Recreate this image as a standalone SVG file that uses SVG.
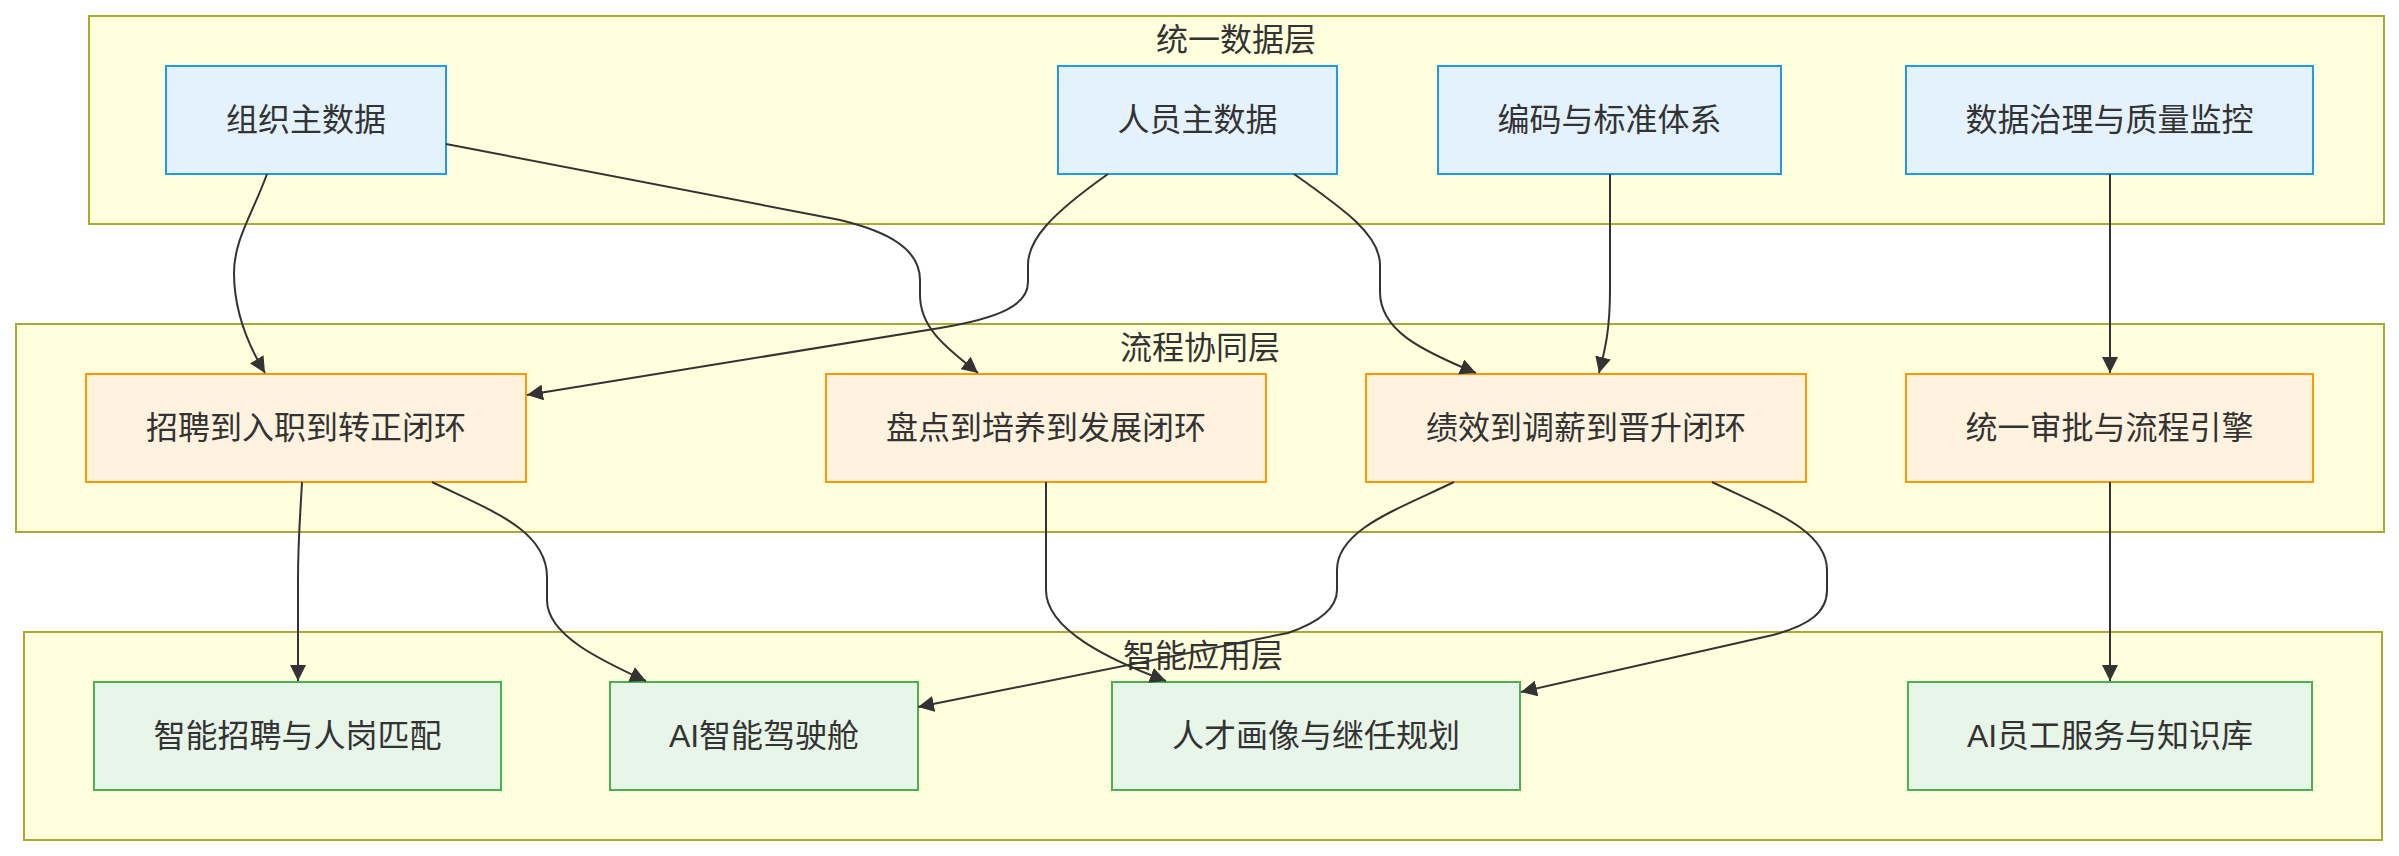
<svg xmlns="http://www.w3.org/2000/svg" width="2399" height="856" viewBox="0 0 2399 856">
<defs>
<marker id="arr" viewBox="0 0 10 10" refX="10" refY="5" markerUnits="userSpaceOnUse" markerWidth="16" markerHeight="16" orient="auto">
<path d="M0,0 L10,5 L0,10 z" fill="#333"/>
</marker>
</defs>
<style>
.cl{fill:#ffffde;stroke:#aaaa33;stroke-width:2}
.dn{fill:#E3F2FD;stroke:#2196F3;stroke-width:2}
.pn{fill:#FFF3E0;stroke:#FF9800;stroke-width:2}
.an{fill:#E8F5E9;stroke:#4CAF50;stroke-width:2}
text{font-family:"Liberation Sans","Noto Sans CJK SC",sans-serif;font-size:32px;fill:#333;text-anchor:middle}
.e{fill:none;stroke:#333;stroke-width:2;marker-end:url(#arr)}
</style>
<rect width="2399" height="856" fill="#fff"/>
<g id="cluster-data">
<rect class="cl" x="89" y="16" width="2295" height="208"/>
<text x="1236" y="51">统一数据层</text>
</g>
<g id="cluster-process">
<rect class="cl" x="16" y="324" width="2368" height="208"/>
<text x="1200" y="359">流程协同层</text>
</g>
<g id="cluster-app">
<rect class="cl" x="24" y="632" width="2358" height="208"/>
<text x="1203" y="667">智能应用层</text>
</g>
<g id="n-org"><rect class="dn" x="166" y="66" width="280" height="108"/><text x="306" y="131">组织主数据</text></g>
<g id="n-person"><rect class="dn" x="1058" y="66" width="279" height="108"/><text x="1197.5" y="131">人员主数据</text></g>
<g id="n-code"><rect class="dn" x="1438" y="66" width="343" height="108"/><text x="1609.5" y="131">编码与标准体系</text></g>
<g id="n-gov"><rect class="dn" x="1906" y="66" width="407" height="108"/><text x="2109.5" y="131">数据治理与质量监控</text></g>
<g id="n-recruit"><rect class="pn" x="86" y="374" width="440" height="108"/><text x="306" y="439">招聘到入职到转正闭环</text></g>
<g id="n-review"><rect class="pn" x="826" y="374" width="440" height="108"/><text x="1046" y="439">盘点到培养到发展闭环</text></g>
<g id="n-perf"><rect class="pn" x="1366" y="374" width="440" height="108"/><text x="1586" y="439">绩效到调薪到晋升闭环</text></g>
<g id="n-approve"><rect class="pn" x="1906" y="374" width="407" height="108"/><text x="2109.5" y="439">统一审批与流程引擎</text></g>
<g id="n-smartrec"><rect class="an" x="94" y="682" width="407" height="108"/><text x="297.5" y="747">智能招聘与人岗匹配</text></g>
<g id="n-cockpit"><rect class="an" x="610" y="682" width="308" height="108"/><text x="764" y="747">AI智能驾驶舱</text></g>
<g id="n-talent"><rect class="an" x="1112" y="682" width="408" height="108"/><text x="1316" y="747">人才画像与继任规划</text></g>
<g id="n-service"><rect class="an" x="1908" y="682" width="404" height="108"/><text x="2110" y="747">AI员工服务与知识库</text></g>
<g id="connectors">
<path class="e" d="M267,174 C252,215 234,240 234,273 C234,310 248,345 265,373"/>
<path class="e" d="M446,144 L840,220 C890,232 920,250 920,280 L920,295 C920,330 950,350 978,373"/>
<path class="e" d="M1108,174 C1050,215 1028,240 1028,265 L1028,282 C1028,305 1000,318 940,328 L527,395"/>
<path class="e" d="M1294,174 C1345,210 1380,235 1380,265 L1380,292 C1380,330 1420,350 1476,373"/>
<path class="e" d="M1610,174 L1610,290 C1610,330 1605,350 1599,373"/>
<path class="e" d="M2110,174 L2110,373"/>
<path class="e" d="M302,482 C300,520 298,540 298,580 L298,681"/>
<path class="e" d="M432,482 C490,510 547,530 547,577 L547,600 C547,635 600,660 646,681"/>
<path class="e" d="M1046,482 L1046,590 C1046,630 1110,660 1166,681"/>
<path class="e" d="M1454,482 C1396,510 1337,530 1337,570 L1337,590 C1337,608 1320,622 1288,633 L918,707"/>
<path class="e" d="M1712,482 C1770,510 1827,530 1827,570 L1827,590 C1827,612 1810,625 1773,635 L1521,692"/>
<path class="e" d="M2110,482 L2110,681"/>
</g>
</svg>
